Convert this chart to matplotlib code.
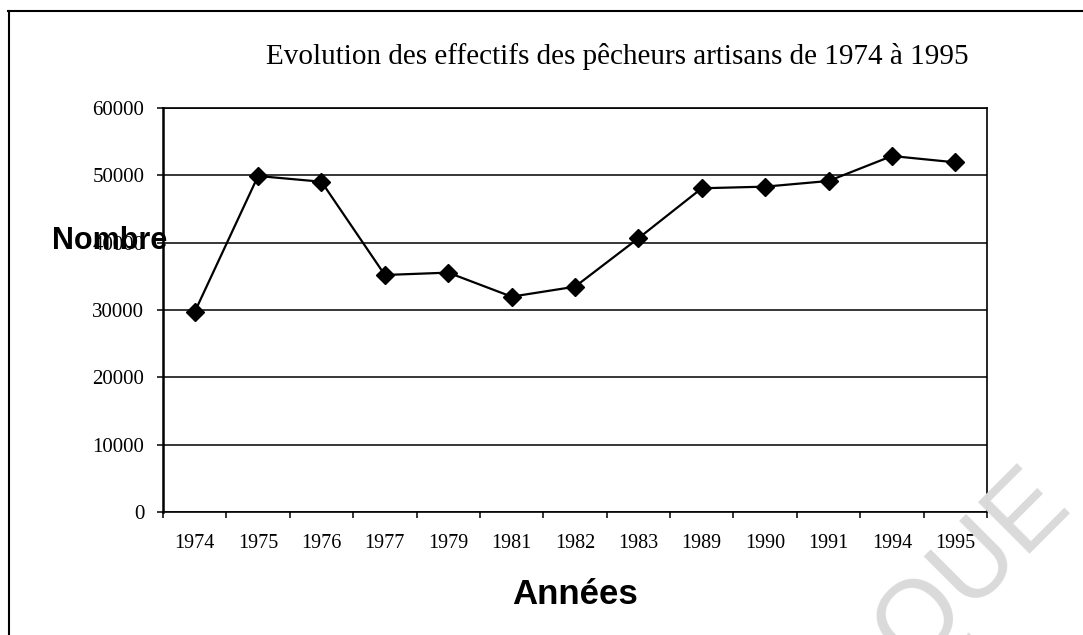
import matplotlib
matplotlib.use("Agg")
import matplotlib.pyplot as plt
from matplotlib.lines import Line2D

years = ["1974", "1975", "1976", "1977", "1979", "1981", "1982",
         "1983", "1989", "1990", "1991", "1994", "1995"]
effectifs = [29700, 49900, 49050, 35200, 35550, 31980, 33460,
             40650, 48080, 48320, 49160, 52870, 51930]
yticks = [0, 10000, 20000, 30000, 40000, 50000, 60000]

title = "Evolution des effectifs des pêcheurs artisans de 1974 à 1995"
ylabel = "Nombre"
xlabel = "Années"

W, H = 1083, 635
fig = plt.figure(figsize=(W / 100, H / 100), dpi=100)
fig.patch.set_facecolor("white")

# watermark
fig.text(972 / W, 1 - 568 / H, "QUE", rotation=45, fontsize=76,
         family="Liberation Sans", color="#dadada", ha="center", va="center",
         zorder=0)

ax = fig.add_axes([163 / W, 1 - 512 / H, (987 - 163) / W, (512 - 108) / H])
ax.set_facecolor("none")
x = list(range(len(years)))
ax.plot(x, effectifs, color="black", lw=1.6, marker="D", markersize=9,
        markerfacecolor="black", markeredgecolor="black", zorder=3)

ax.set_xlim(-0.5, len(years) - 0.5)
ax.set_ylim(0, 60000)
ax.set_yticks(yticks)
ax.set_yticklabels([str(v) for v in yticks], family="Liberation Serif",
                   fontsize=15)
ax.yaxis.grid(True, color="black", lw=1.1)
ax.set_axisbelow(True)

ax.set_xticks([i - 0.5 for i in range(len(years) + 1)])
ax.set_xticklabels([])
ax.set_xticks(x, minor=True)
ax.set_xticklabels(years, minor=True, family="Liberation Serif", fontsize=14.5)
ax.tick_params(axis="x", which="major", direction="out", length=4, width=1.1,
               color="black")
ax.tick_params(axis="x", which="minor", length=0, pad=16)
ax.tick_params(axis="y", direction="out", length=4.5, width=1.1, pad=9)

for s in ["top", "right", "bottom"]:
    ax.spines[s].set_linewidth(1.2)
ax.spines["left"].set_linewidth(1.8)

fig.text(617 / W, 1 - 56 / H, title, family="Liberation Serif", fontsize=21,
         ha="center", va="center")
fig.text(110 / W, 1 - 241 / H, ylabel, family="Liberation Sans",
         fontweight="bold", fontsize=22, ha="center", va="center", zorder=5)
fig.text(575 / W, 1 - 594 / H, xlabel, family="Liberation Sans",
         fontweight="bold", fontsize=25, ha="center", va="center")

# outer frame (left and top edges)
fig.add_artist(Line2D([9 / W, 9 / W], [0, 1 - 11 / H], transform=fig.transFigure,
                      color="black", lw=1.5))
fig.add_artist(Line2D([8 / W, 1], [1 - 11 / H, 1 - 11 / H],
                      transform=fig.transFigure, color="black", lw=1.5))

fig.savefig("out.png", dpi=100)
